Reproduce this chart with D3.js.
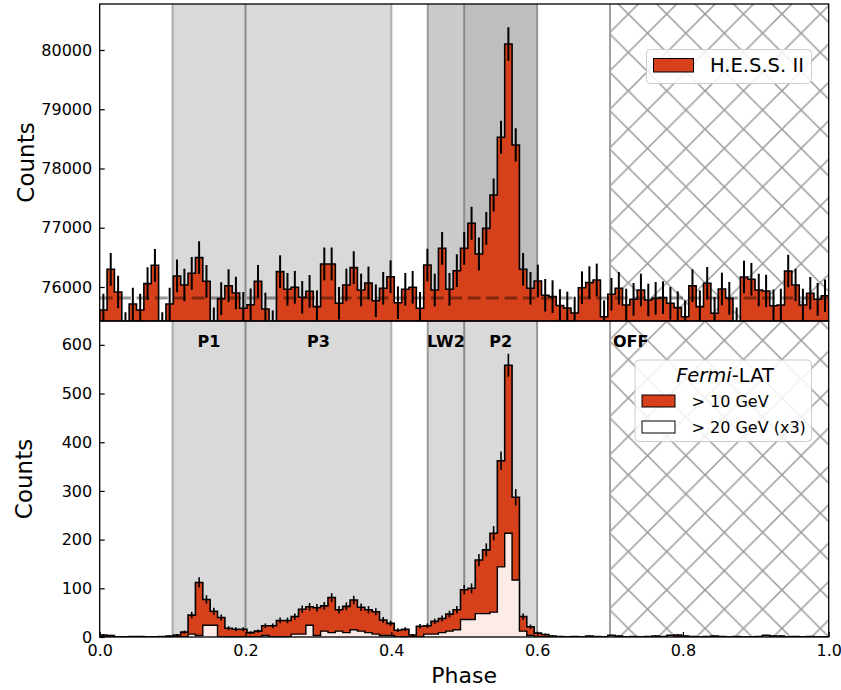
<!DOCTYPE html>
<html><head><meta charset="utf-8">
<script src="https://cdn.jsdelivr.net/npm/d3@7"></script>
<style>body{margin:0;background:#fff} svg{display:block;font-family:"DejaVu Sans",sans-serif}</style>
</head><body><svg id="c" width="841" height="690"></svg>
<script>
// ---------------- data ----------------
const nBins = 99;
const binEdges = d3.range(nBins + 1).map(k => k / 99);

const hessCounts = [
 75612,76299,75916,75300,75713,75612,76056,76366,75300,75713,
 76186,76034,76231,76495,76096,75380,75803,76022,75899,75640,
 75700,76096,75629,75330,76259,75961,75995,75826,75927,75668,
 76388,76388,75725,76034,76326,75949,76068,75769,75978,76174,
 75735,75961,75995,75641,76371,75949,76653,75961,76275,76653,
 77075,76557,76990,77553,78527,80101,78397,76299,75978,76101,
 75860,75837,75688,75646,75561,75988,76073,76118,75499,75877,
 75978,75696,75792,75949,75781,75809,75820,75725,75651,75499,
 76022,75668,76062,75556,75966,75809,75380,76169,76130,75949,
 75932,75684,75696,76270,76034,75696,75894,75792,75853];
const hessBackground = 75814;

const fermi10 = [
 4,3,0,0,1,1,0,0,1,2,
 4,10,45,112,77,53,40,18,16,16,
 9,12,23,23,34,34,42,57,62,60,
 64,81,56,63,76,61,56,52,35,28,
 14,16,4,22,23,32,38,47,56,97,
 100,158,179,213,362,558,287,42,21,8,
 5,2,1,0,1,0,2,1,0,3,
 2,0,1,0,1,2,1,3,4,2,
 1,0,1,2,1,0,1,0,0,1,
 3,2,2,0,1,0,1,0,0];

const fermi20x3 = [
 0,0,0,0,0,0,0,0,0,0,
 0,0,6,3,24,24,0,0,0,0,
 0,0,3,0,0,0,6,6,24,3,
 12,9,12,9,15,12,9,6,3,3,
 0,0,0,0,6,6,9,12,15,36,
 36,48,48,51,144,213,117,12,3,0,
 0,0,0,0,0,0,0,0,0,3,
 0,0,0,0,0,0,0,3,0,0,
 0,0,0,0,0,0,0,0,0,0,
 3,0,0,0,0,0,0,0,0];

const hessTicks = [76000, 77000, 78000, 79000, 80000];
const fermiTicks = [0, 100, 200, 300, 400, 500, 600];
const phaseTicks = [0, 0.2, 0.4, 0.6, 0.8, 1.0];

const regionNames = ["P1", "P3", "LW2", "P2", "OFF"];
const regionStart = [0.1, 0.2, 0.45, 0.5, 0.7];
const regionEnd   = [0.2, 0.4, 0.5, 0.6, 1.0];

// ---------------- layout / style ----------------
const L = 99.7, R = 828.7, T1 = 4, B1 = 321, T2 = 321, B2 = 637;
const barColor = "#d6411b";
const lightFill = "#fcebe6";
const topShade = ["#d9d9d9", "#d9d9d9", "#cbcbcb", "#bebebe"];
const botShade = ["#d9d9d9", "#d9d9d9", "#d9d9d9", "#d9d9d9"];
const lineColor = {0.1: "#ababab", 0.2: "#8a8a8a", 0.4: "#b0b0b0", 0.45: "#9a9a9a", 0.5: "#8a8a8a", 0.6: "#959595", 0.7: "#a0a0a0"};

const svg = d3.select("#c");
const x = d3.scaleLinear([0, 1], [L, R]);
const yT = d3.scaleLinear([75426, 80776], [B1, T1]);
const yB = d3.scaleLinear([0, 649], [B2, T2]);
const binMid = i => x((binEdges[i] + binEdges[i + 1]) / 2);

const defs = svg.append("defs");
const P = 38.4;
const pat = defs.append("pattern").attr("id", "hatch").attr("patternUnits", "userSpaceOnUse")
  .attr("width", P).attr("height", P).attr("x", 13.9).attr("y", 14);
pat.append("path").attr("d", `M-2,-2L${P+2},${P+2}M-2,${P+2}L${P+2},-2`)
  .attr("stroke", "#999999").attr("stroke-width", 1.5).attr("fill", "none");

defs.append("clipPath").attr("id", "clipT").append("rect").attr("x", L).attr("y", T1).attr("width", R - L).attr("height", B1 - T1);
defs.append("clipPath").attr("id", "clipB").append("rect").attr("x", L).attr("y", T2).attr("width", R - L).attr("height", B2 - T2);

function histPoints(vals, base) {
  const pts = [[binEdges[0], base]];
  vals.forEach((v, i) => { pts.push([binEdges[i], v]); pts.push([binEdges[i + 1], v]); });
  pts.push([binEdges[nBins], base]);
  return pts;
}

function drawPanel(top, bottom, shades, clipId) {
  const g = svg.append("g").attr("clip-path", `url(#${clipId})`);
  for (let i = 0; i < 4; i++) {
    g.append("rect").attr("x", x(regionStart[i])).attr("y", top)
      .attr("width", x(regionEnd[i]) - x(regionStart[i])).attr("height", bottom - top)
      .attr("fill", shades[i]);
  }
  g.append("rect").attr("x", x(regionStart[4])).attr("y", top)
    .attr("width", x(regionEnd[4]) - x(regionStart[4])).attr("height", bottom - top)
    .attr("fill", "url(#hatch)");
  [0.1, 0.2, 0.4, 0.45, 0.5, 0.6, 0.7].forEach(v => {
    g.append("line").attr("x1", x(v)).attr("x2", x(v)).attr("y1", top).attr("y2", bottom)
      .attr("stroke", lineColor[v]).attr("stroke-width", 2);
  });
  return g;
}

// ---------- top panel (H.E.S.S. II) ----------
const gT = drawPanel(T1, B1, topShade, "clipT");
const lineT = d3.line().x(d => x(d[0])).y(d => yT(d[1]));
gT.append("path").attr("d", lineT(histPoints(hessCounts, 74000)))
  .attr("fill", barColor).attr("stroke", "#000").attr("stroke-width", 1.6);
gT.selectAll(".eT").data(hessCounts.map((v, i) => ({v, i}))).join("line")
  .attr("x1", d => binMid(d.i)).attr("x2", d => binMid(d.i))
  .attr("y1", d => yT(d.v - Math.sqrt(d.v))).attr("y2", d => yT(d.v + Math.sqrt(d.v)))
  .attr("stroke", "#000").attr("stroke-width", 2);
gT.append("line").attr("x1", x(0)).attr("x2", x(1)).attr("y1", yT(hessBackground)).attr("y2", yT(hessBackground))
  .attr("stroke", "rgba(0,0,0,0.4)").attr("stroke-width", 3.2).attr("stroke-dasharray", "12.8,5.6");

// ---------- bottom panel (Fermi-LAT) ----------
const gB = drawPanel(T2, B2, botShade, "clipB");
const lineB = d3.line().x(d => x(d[0])).y(d => yB(d[1]));
gB.append("path").attr("d", lineB(histPoints(fermi10, 0)))
  .attr("fill", barColor).attr("stroke", "#000").attr("stroke-width", 1.6);
gB.selectAll(".eB").data(fermi10.map((v, i) => ({v, i})).filter(d => d.v > 0)).join("line")
  .attr("x1", d => binMid(d.i)).attr("x2", d => binMid(d.i))
  .attr("y1", d => yB(d.v - Math.sqrt(d.v))).attr("y2", d => yB(d.v + Math.sqrt(d.v)))
  .attr("stroke", "#000").attr("stroke-width", 1.6);
gB.append("path").attr("d", lineB(histPoints(fermi20x3, 0)))
  .attr("fill", lightFill).attr("stroke", "#000").attr("stroke-width", 1.4);

// region labels
const labelX = [0.15, 0.30, 0.475, 0.55];
regionNames.forEach((n, i) => {
  svg.append("text").attr("x", i < 4 ? x(labelX[i]) : x(regionStart[4]) + 3).attr("y", 347)
    .attr("text-anchor", i < 4 ? "middle" : "start")
    .attr("font-weight", "bold").attr("font-size", 16).text(n);
});

// ---------- axes ----------
function styleAxis(sel) {
  sel.select(".domain").remove();
  sel.selectAll(".tick line").attr("stroke", "#000").attr("stroke-width", 1.2);
  sel.selectAll(".tick text").attr("font-size", 16).attr("font-family", "DejaVu Sans").attr("fill", "#000");
}
svg.append("g").attr("transform", `translate(${L},0)`)
  .call(d3.axisLeft(yT).tickValues(hessTicks).tickFormat(d3.format("d")).tickSizeInner(-5).tickSizeOuter(0).tickPadding(7.5))
  .call(styleAxis);
svg.append("g").attr("transform", `translate(${L},0)`)
  .call(d3.axisLeft(yB).tickValues(fermiTicks).tickFormat(d3.format("d")).tickSizeInner(-5).tickSizeOuter(0).tickPadding(7.5))
  .call(styleAxis);
svg.append("g").attr("transform", `translate(0,${B2})`)
  .call(d3.axisBottom(x).tickValues(phaseTicks).tickFormat(d3.format(".1f")).tickSizeInner(-5).tickSizeOuter(0).tickPadding(8))
  .call(styleAxis);

// frames
[[T1, B1], [T2, B2]].forEach(([t, b]) => {
  svg.append("rect").attr("x", L).attr("y", t).attr("width", R - L).attr("height", b - t)
    .attr("fill", "none").attr("stroke", "#000").attr("stroke-width", 1.3);
});

// axis labels
svg.append("text").attr("transform", `translate(34,${(T1 + B1) / 2}) rotate(-90)`)
  .attr("text-anchor", "middle").attr("font-size", 23).text("Counts");
svg.append("text").attr("transform", `translate(32,${(T2 + B2) / 2}) rotate(-90)`)
  .attr("text-anchor", "middle").attr("font-size", 23).text("Counts");
svg.append("text").attr("x", (L + R) / 2).attr("y", 683).attr("text-anchor", "middle")
  .attr("font-size", 22).text("Phase");

// ---------- legends ----------
const lgT = svg.append("g");
lgT.append("rect").attr("x", 646.5).attr("y", 49.5).attr("width", 165).attr("height", 34).attr("rx", 4)
  .attr("fill", "rgba(255,255,255,0.85)").attr("stroke", "#cccccc");
lgT.append("rect").attr("x", 653.5).attr("y", 58.5).attr("width", 40).attr("height", 13.5)
  .attr("fill", barColor).attr("stroke", "#000").attr("stroke-width", 1);
lgT.append("text").attr("x", 710).attr("y", 72).attr("font-size", 19.5).text("H.E.S.S. II");

const lgB = svg.append("g");
lgB.append("rect").attr("x", 635).attr("y", 360).attr("width", 176.5).attr("height", 81.5).attr("rx", 4)
  .attr("fill", "rgba(255,255,255,0.85)").attr("stroke", "#cccccc");
const ttl = lgB.append("text").attr("x", 725).attr("y", 381.5).attr("text-anchor", "middle").attr("font-size", 19.5);
ttl.append("tspan").attr("font-style", "italic").text("Fermi");
ttl.append("tspan").text("-LAT");
lgB.append("rect").attr("x", 642).attr("y", 395).attr("width", 33).attr("height", 12)
  .attr("fill", barColor).attr("stroke", "#000").attr("stroke-width", 1);
lgB.append("text").attr("x", 691.5).attr("y", 406.5).attr("font-size", 16).text("> 10 GeV");
lgB.append("rect").attr("x", 642).attr("y", 421).attr("width", 33).attr("height", 12)
  .attr("fill", "#ffffff").attr("stroke", "#000").attr("stroke-width", 1);
lgB.append("text").attr("x", 691.5).attr("y", 432.5).attr("font-size", 16).text("> 20 GeV (x3)");
</script></body></html>
